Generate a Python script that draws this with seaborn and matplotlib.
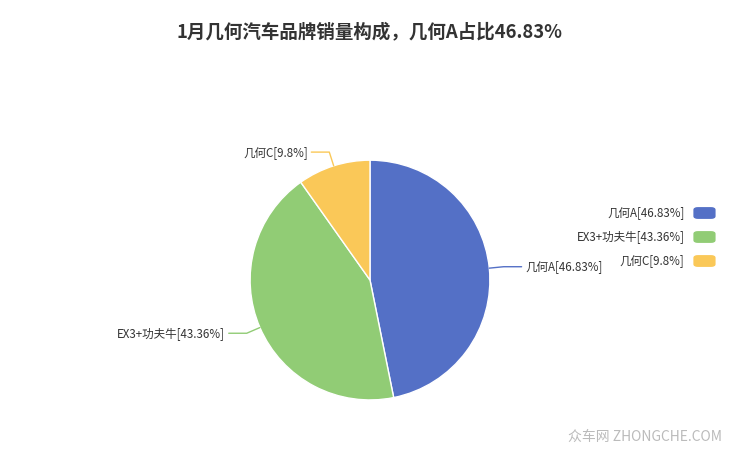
import matplotlib
matplotlib.use('Agg')
import matplotlib.pyplot as plt
import numpy as np
import seaborn as sns
from matplotlib.patches import FancyBboxPatch

sns.set_theme(style='white')
plt.rcParams['font.family'] = ['Noto Sans CJK SC', 'DejaVu Sans']

labels = ['几何A', 'EX3+功夫牛', '几何C']
shares = [46.83, 43.36, 9.8]
colors = ['#5470c6', '#91cc75', '#fac858']
title = '1月几何汽车品牌销量构成，几何A占比46.83%'

fig = plt.figure(figsize=(7.4, 4.55), dpi=100)
fig.text(0.5, 0.93, title, ha='center', va='center', fontsize=13.3, fontweight='bold', color='#333333')

ax = fig.add_axes([0.338, 0.121, 0.324, 0.527])
wedges, _ = ax.pie(shares, colors=colors, startangle=90, counterclock=False,
                   wedgeprops={'linewidth': 1, 'edgecolor': 'white'})
ax.set_xlim(-1, 1)
ax.set_ylim(-1, 1)
ax.set_aspect('equal')

for w, lab, val, col in zip(wedges, labels, shares, colors):
    ang = np.deg2rad((w.theta1 + w.theta2) / 2)
    x, y = np.cos(ang), np.sin(ang)
    x1, y1 = 1.12 * x, 1.12 * y
    side = 1 if x >= 0 else -1
    x2 = x1 + 0.15 * side
    ax.plot([x, x1, x2], [y, y1, y1], color=col, lw=1, clip_on=False)
    ax.text(x2 + 0.03 * side, y1, f'{lab}[{val}%]', ha='left' if side > 0 else 'right',
            va='center', fontsize=8.3, color='#333333')

# legend
for i, (lab, val, col) in enumerate(zip(labels, shares, colors)):
    yy = 1 - (213 + 24 * i) / 455
    fig.text(0.925, yy, f'{lab}[{val}%]', ha='right', va='center', fontsize=8.3, color='#333333')
    fig.patches.append(FancyBboxPatch((0.937, yy - 0.013), 0.03, 0.026, boxstyle='round,pad=0,rounding_size=0.006',
                                      transform=fig.transFigure, facecolor=col, edgecolor='none'))

fig.text(0.975, 0.04, '众车网 ZHONGCHE.COM', ha='right', va='center', fontsize=10, color='#bbbbbb')

fig.savefig('out.png', dpi=100)
